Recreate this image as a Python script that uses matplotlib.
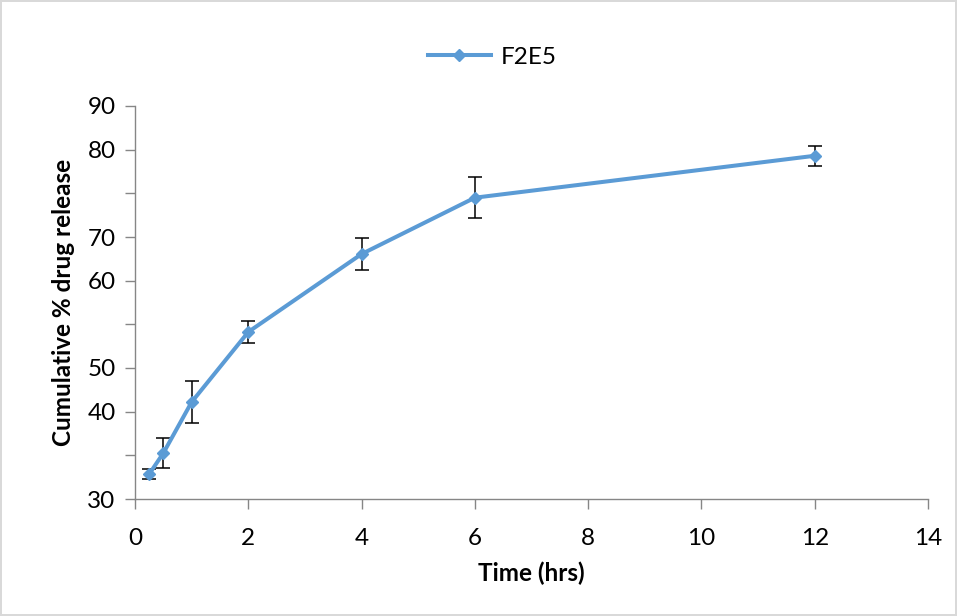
import matplotlib
matplotlib.use("Agg")
import matplotlib.pyplot as plt
import numpy as np

time_hrs = [0.25, 0.5, 1, 2, 4, 6, 12]
release = [33.8, 37.0, 44.8, 55.5, 67.4, 76.0, 82.4]
err = [0.8, 2.3, 3.2, 1.75, 2.4, 3.1, 1.5]
series_name = "F2E5"
ytick_vals = list(np.linspace(30, 90, 10))
ytick_labels = ["30", "", "40", "50", "", "60", "70", "", "80", "90"]
xtick_vals = [0, 2, 4, 6, 8, 10, 12, 14]

plt.rcParams['font.family'] = ['Lato', 'DejaVu Sans']

fig = plt.figure(figsize=(9.57, 6.16), dpi=100)
fig.patch.set_edgecolor('#d9d9d9')
fig.patch.set_linewidth(1.5)
ax = fig.add_axes([135/957, 1-499/616, (928-135)/957, (499-106)/616])

color = '#5B9BD5'
ax.errorbar(time_hrs, release, yerr=err, fmt='none', ecolor='black', elinewidth=1.1, capsize=5, capthick=1.1, zorder=2)
ax.plot(time_hrs, release, color=color, lw=2.9, marker='D', markersize=6.5, label=series_name, zorder=3)

ax.set_xlim(0, 14)
ax.set_ylim(30, 90)
ax.set_xticks(xtick_vals)
ax.set_xticklabels([str(v) for v in xtick_vals])
ax.set_yticks(ytick_vals)
ax.set_yticklabels(ytick_labels)

for s in ['top', 'right']:
    ax.spines[s].set_visible(False)
for s in ['left', 'bottom']:
    ax.spines[s].set_color('#868686')
    ax.spines[s].set_linewidth(1.0)
ax.tick_params(axis='both', direction='out', length=7, width=1.0, color='#868686', labelsize=17.5, labelcolor='black')
ax.tick_params(axis='x', pad=14)
ax.tick_params(axis='y', pad=7)

ax.set_xlabel("Time (hrs)", fontsize=17.5, fontweight='bold', labelpad=9)
ax.set_ylabel("Cumulative % drug release", fontsize=17.5, fontweight='bold', labelpad=9)

fig.legend(loc='center', bbox_to_anchor=(492/957, 1-57/616), frameon=False, fontsize=17.5, handlelength=2.6, handletextpad=0.4)

fig.savefig("out.png", dpi=100, edgecolor=fig.get_edgecolor())
